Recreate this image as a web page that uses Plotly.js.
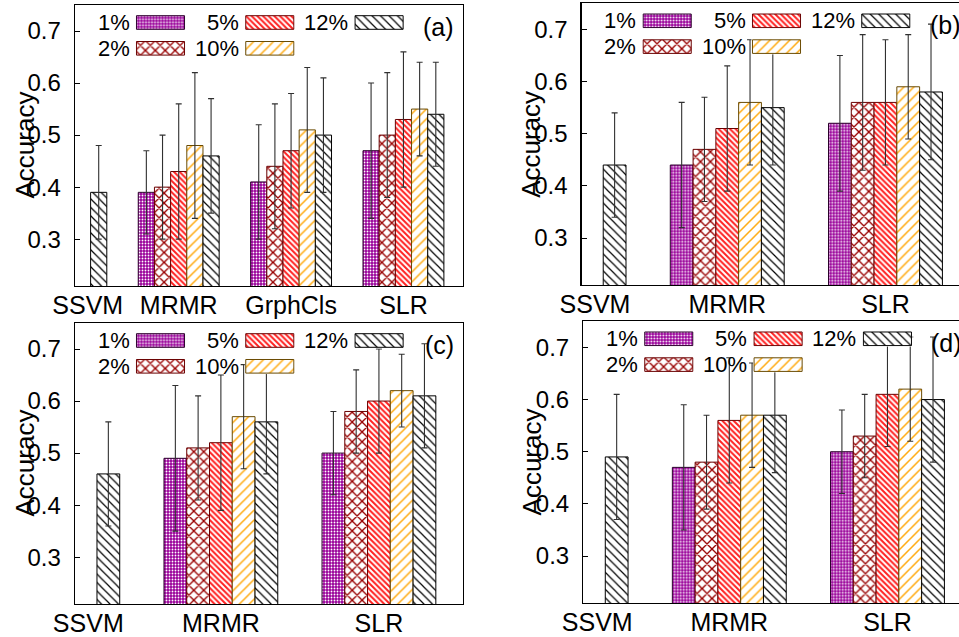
<!DOCTYPE html>
<html>
<head>
<meta charset="utf-8">
<script src="https://cdn.plot.ly/plotly-3.0.1.min.js"></script>
<style>
  html, body { margin: 0; padding: 0; overflow: hidden; background: #fff; }
  #chart { width: 980px; height: 637px; }
</style>
</head>
<body>
<div id="chart"></div>
<script>
// ---------- data ----------
const seriesNames = ['1%', '2%', '5%', '10%', '12%'];
const catsA = ['SSVM', 'MRMR', 'GrphCls', 'SLR'];
const catsBCD = ['SSVM', 'MRMR', 'SLR'];
const panelLabels = ['(a)', '(b)', '(c)', '(d)'];
const yTitle = 'Accuracy';

// accuracy per series (rows: 1%,2%,5%,10%,12%), per category
const accA = [
  [null, 0.39, 0.41, 0.47],
  [null, 0.40, 0.44, 0.50],
  [null, 0.43, 0.47, 0.53],
  [null, 0.48, 0.51, 0.55],
  [0.39, 0.46, 0.50, 0.54]
];
const errA = [
  [null, 0.08, 0.11, 0.13],
  [null, 0.10, 0.12, 0.12],
  [null, 0.13, 0.11, 0.13],
  [null, 0.14, 0.12, 0.09],
  [0.09, 0.11, 0.11, 0.10]
];
const accB = [
  [null, 0.44, 0.52],
  [null, 0.47, 0.56],
  [null, 0.51, 0.56],
  [null, 0.56, 0.59],
  [0.44, 0.55, 0.58]
];
const errB = [
  [null, 0.12, 0.13],
  [null, 0.10, 0.13],
  [null, 0.12, 0.12],
  [null, 0.12, 0.10],
  [0.10, 0.11, 0.13]
];
const accC = [
  [null, 0.49, 0.50],
  [null, 0.51, 0.58],
  [null, 0.52, 0.60],
  [null, 0.57, 0.62],
  [0.46, 0.56, 0.61]
];
const errC = [
  [null, 0.14, 0.08],
  [null, 0.10, 0.08],
  [null, 0.13, 0.10],
  [null, 0.10, 0.07],
  [0.10, 0.10, 0.10]
];
const accD = [
  [null, 0.47, 0.50],
  [null, 0.48, 0.53],
  [null, 0.56, 0.61],
  [null, 0.57, 0.62],
  [0.49, 0.57, 0.60]
];
const errD = [
  [null, 0.12, 0.08],
  [null, 0.09, 0.08],
  [null, 0.12, 0.10],
  [null, 0.10, 0.10],
  [0.12, 0.11, 0.12]
];
const yTicks = [0.3, 0.4, 0.5, 0.6, 0.7];

// ---------- styles ----------
const FONT = 'Liberation Sans, Arial, Helvetica, sans-serif';
const styles = [
  { bg: '#990099', fg: '#ffffff', shape: '.', size: 3, sol: 0.3, line: '#2a002a' },
  { bg: '#ffffff', fg: '#990000', shape: 'x', size: 7, sol: 0.35, line: '#6a0000' },
  { bg: '#ffffff', fg: '#ff2020', shape: '\\', size: 4, sol: 0.5, line: '#6a0000' },
  { bg: '#ffffff', fg: '#ffaa10', shape: '/', size: 7, sol: 0.22, line: '#6a4a00' },
  { bg: '#ffffff', fg: '#000000', shape: '\\', size: 6, sol: 0.2, line: '#000000' }
];

const W = 980, H = 637;
// panel plot-area boxes in px: [left, top, right, bottom]
const boxes = [
  [75, 5, 463, 286],
  [581.7, 3.3, 969.3, 285],
  [75, 323, 462.7, 604],
  [583.3, 321.3, 971.3, 603]
];
const panels = [
  { cats: catsA, acc: accA, err: errA, xr: [0.077, 3.53], ssvmPos: 0.19 },
  { cats: catsBCD, acc: accB, err: errB, xr: [0.08, 2.53], ssvmPos: 0.164 },
  { cats: catsBCD, acc: accC, err: errC, xr: [0.077, 2.53], ssvmPos: 0.161 },
  { cats: catsBCD, acc: accD, err: errD, xr: [0.077, 2.53], ssvmPos: 0.165 }
];

const data = [];
const layout = {
  width: W, height: H,
  margin: { l: 0, r: 0, t: 0, b: 0, pad: 0 },
  paper_bgcolor: '#ffffff', plot_bgcolor: '#ffffff',
  barmode: 'group', bargap: 0.28, bargroupgap: 0,
  showlegend: false,
  font: { family: FONT, color: '#000000', size: 22 },
  annotations: []
};

function px2dx(x) { return x / W; }
function px2dy(y) { return 1 - y / H; }

let axisCount = 0;
panels.forEach((p, pi) => {
  axisCount++;
  const n = axisCount;
  const xk = n === 1 ? 'xaxis' : 'xaxis' + n;
  const yk = n === 1 ? 'yaxis' : 'yaxis' + n;
  const xr = n === 1 ? 'x' : 'x' + n;
  const yr = n === 1 ? 'y' : 'y' + n;
  const b = boxes[pi];
  const idx = p.cats.map((c, i) => i);
  const tickv = idx.map(i => (i === 0 ? p.ssvmPos : i));

  layout[xk] = {
    domain: [px2dx(b[0]), px2dx(b[2])],
    anchor: yr,
    range: p.xr,
    tickmode: 'array', tickvals: tickv, ticktext: p.cats,
    ticks: '', showgrid: false, zeroline: false,
    showline: true, linecolor: '#000', linewidth: 1.3, mirror: true,
    tickfont: { family: FONT, size: 25, color: '#000' },
    ticklabelstandoff: -3,
    fixedrange: true
  };
  layout[yk] = {
    domain: [px2dy(b[3]), px2dy(b[1])],
    anchor: xr,
    range: [0.21, 0.75],
    tickmode: 'array', tickvals: yTicks, ticktext: yTicks.map(v => v.toFixed(1)),
    ticks: 'inside', ticklen: 5, tickcolor: '#000', tickwidth: 1,
    showgrid: false, zeroline: false,
    showline: true, linecolor: '#000', linewidth: 1.3, mirror: true,
    tickfont: { family: FONT, size: 24, color: '#000' },
    ticklabelstandoff: 8,
    fixedrange: true
  };

  seriesNames.forEach((s, si) => {
    const st = styles[si];
    data.push({
      type: 'bar', name: s, xaxis: xr, yaxis: yr,
      x: idx, y: p.acc[si],
      marker: {
        color: st.bg,
        line: { color: st.line, width: 1 },
        pattern: { shape: st.shape, fgcolor: st.fg, bgcolor: st.bg, size: st.size, solidity: st.sol, fillmode: 'replace' }
      },
      error_y: { type: 'data', array: p.err[si], visible: true, color: '#303030', thickness: 1.1, width: 3 },
      hoverinfo: 'skip'
    });
  });

  // y-axis title (placed close to the tick labels, as in the original)
  layout.annotations.push({
    xref: 'paper', yref: 'paper',
    x: px2dx(b[0] - 51), y: px2dy((b[1] + b[3]) / 2),
    xanchor: 'center', yanchor: 'middle', textangle: -90,
    text: yTitle, showarrow: false,
    font: { family: FONT, size: 26, color: '#000' }
  });

  // panel label
  layout.annotations.push({
    xref: 'paper', yref: 'paper',
    x: px2dx(b[0] + 381), y: px2dy(b[1] + 22),
    xanchor: 'right', yanchor: 'middle',
    text: panelLabels[pi], showarrow: false,
    font: { family: FONT, size: 25, color: '#000' }
  });
});

// ---------- key (legend) samples drawn as small patterned bars ----------
const keyPos = [[0, 0], [0, 1], [1, 0], [1, 1], [2, 0]]; // [col,row] per series
panels.forEach((p, pi) => {
  const b = boxes[pi];
  seriesNames.forEach((s, si) => {
    axisCount++;
    const n = axisCount;
    const st = styles[si];
    const left = b[0] + 61.5 + keyPos[si][0] * 109.3;
    const cy = b[1] + 17.5 + keyPos[si][1] * 25.8;
    const w = 48, h = 13.5;
    layout['xaxis' + n] = {
      domain: [px2dx(left - 1), px2dx(left + w + 1)], anchor: 'y' + n,
      range: [-0.52, 0.52], visible: false, fixedrange: true
    };
    layout['yaxis' + n] = {
      domain: [px2dy(cy + h / 2 + 1), px2dy(cy - h / 2 - 1)], anchor: 'x' + n,
      range: [-0.07, 1.07], visible: false, fixedrange: true
    };
    data.push({
      type: 'bar', name: s, xaxis: 'x' + n, yaxis: 'y' + n,
      x: [0], y: [1], width: [1],
      marker: {
        color: st.bg,
        line: { color: st.line, width: 1 },
        pattern: { shape: st.shape, fgcolor: st.fg, bgcolor: st.bg, size: st.size, solidity: st.sol, fillmode: 'replace' }
      },
      hoverinfo: 'skip', showlegend: false
    });
    layout.annotations.push({
      xref: 'paper', yref: 'paper',
      x: px2dx(left - 5), y: px2dy(cy),
      xanchor: 'right', yanchor: 'middle',
      text: s, showarrow: false,
      font: { family: FONT, size: 22, color: '#000' }
    });
  });
});

Plotly.newPlot('chart', data, layout, { displayModeBar: false, staticPlot: true });
</script>
</body>
</html>
